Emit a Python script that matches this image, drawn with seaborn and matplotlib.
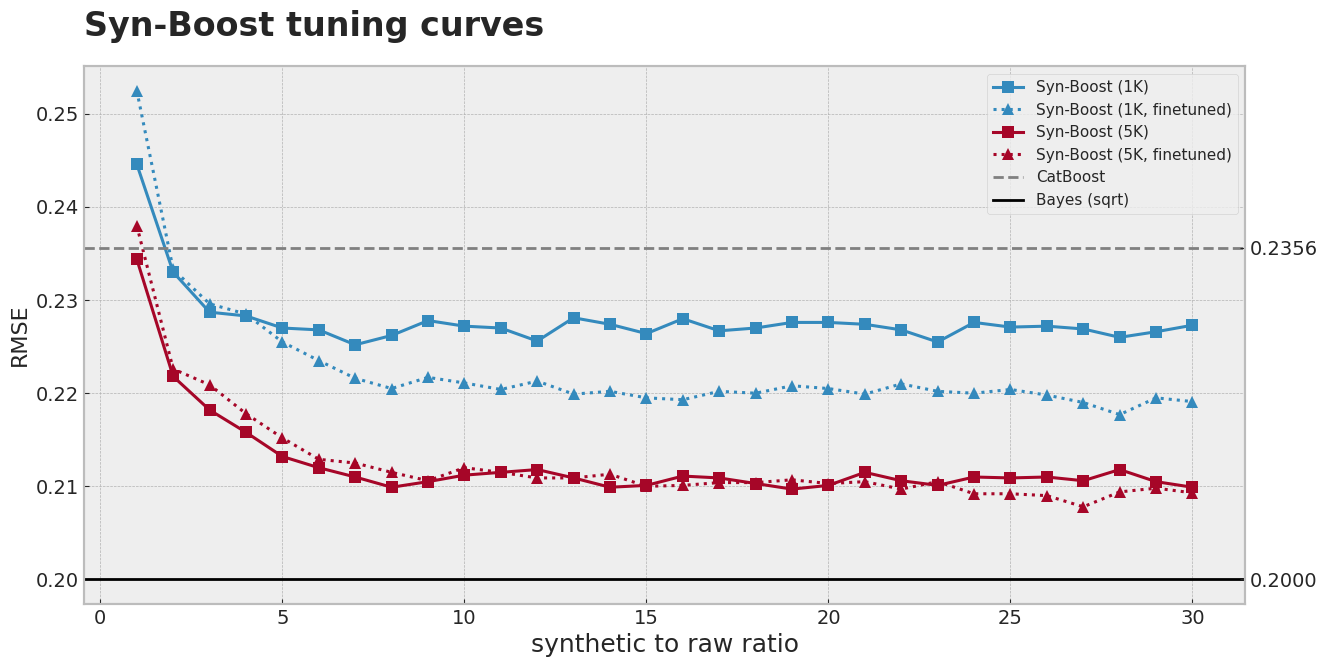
import numpy as np
import pandas as pd
import matplotlib
matplotlib.use("Agg")
import matplotlib.pyplot as plt
import seaborn as sns

# ratios synthetic / raw
ratio = list(range(1, 31))

rmse_1k = [0.2446, 0.2330, 0.2287, 0.2283, 0.2270, 0.2268, 0.2252, 0.2262, 0.2278, 0.2272,
           0.2270, 0.2256, 0.2281, 0.2274, 0.2264, 0.2280, 0.2267, 0.2270, 0.2276, 0.2276,
           0.2274, 0.2268, 0.2255, 0.2276, 0.2271, 0.2272, 0.2269, 0.2260, 0.2266, 0.2273]
rmse_1k_ft = [0.2525, 0.2333, 0.2296, 0.2285, 0.2255, 0.2235, 0.2216, 0.2205, 0.2217, 0.2211,
              0.2204, 0.2213, 0.2199, 0.2202, 0.2195, 0.2193, 0.2202, 0.2200, 0.2208, 0.2205,
              0.2199, 0.2210, 0.2202, 0.2200, 0.2204, 0.2198, 0.2190, 0.2177, 0.2195, 0.2191]
rmse_5k = [0.2344, 0.2218, 0.2182, 0.2158, 0.2132, 0.2120, 0.2110, 0.2099, 0.2105, 0.2112,
           0.2115, 0.2118, 0.2109, 0.2099, 0.2101, 0.2111, 0.2109, 0.2103, 0.2097, 0.2101,
           0.2115, 0.2106, 0.2101, 0.2110, 0.2109, 0.2110, 0.2106, 0.2118, 0.2105, 0.2099]
rmse_5k_ft = [0.2380, 0.2226, 0.2209, 0.2178, 0.2152, 0.2129, 0.2125, 0.2115, 0.2106, 0.2120,
              0.2115, 0.2109, 0.2109, 0.2113, 0.2100, 0.2101, 0.2104, 0.2104, 0.2107, 0.2103,
              0.2105, 0.2097, 0.2105, 0.2092, 0.2092, 0.2090, 0.2078, 0.2094, 0.2098, 0.2093]

catboost = 0.2356
bayes = 0.2000

plt.style.use("bmh")
plt.rcParams.update({"text.color": ".15", "axes.labelcolor": ".15",
                     "xtick.color": ".15", "ytick.color": ".15",
                     "axes.linewidth": 1.5})
blue = "#348ABD"
red = "#A60628"

fig, ax = plt.subplots(figsize=(13.29, 6.68), dpi=100)
fig.subplots_adjust(left=0.0632, right=0.937, top=0.901, bottom=0.096)

series = [
    ("Syn-Boost (1K)", rmse_1k, blue, "-", "s"),
    ("Syn-Boost (1K, finetuned)", rmse_1k_ft, blue, ":", "^"),
    ("Syn-Boost (5K)", rmse_5k, red, "-", "s"),
    ("Syn-Boost (5K, finetuned)", rmse_5k_ft, red, ":", "^"),
]
for name, vals, col, ls, mk in series:
    df = pd.DataFrame({"ratio": ratio, "rmse": vals})
    sns.lineplot(data=df, x="ratio", y="rmse", ax=ax, color=col, linestyle=ls,
                 marker=mk, markersize=9 if mk == "^" else 8, markeredgewidth=0,
                 linewidth=2.2, label=name)

ax.axhline(catboost, color="gray", linestyle="--", linewidth=2, label="CatBoost")
ax.axhline(bayes, color="black", linestyle="-", linewidth=2, label="Bayes (sqrt)")

ax.set_xlabel("synthetic to raw ratio", fontsize=18)
ax.set_ylabel("RMSE", fontsize=16)
ax.tick_params(labelsize=14)
ax.set_title("Syn-Boost tuning curves", loc="left", fontsize=24, fontweight="bold", pad=22)
ax.legend(loc="upper right", fontsize=11)

ax2 = ax.twinx()
ax2.set_ylim(ax.get_ylim())
ax2.set_yticks([bayes, catboost])
ax2.set_yticklabels([f"{bayes:.4f}", f"{catboost:.4f}"])
ax2.tick_params(labelsize=14)
ax2.grid(False)

fig.savefig("out.png", dpi=100)
